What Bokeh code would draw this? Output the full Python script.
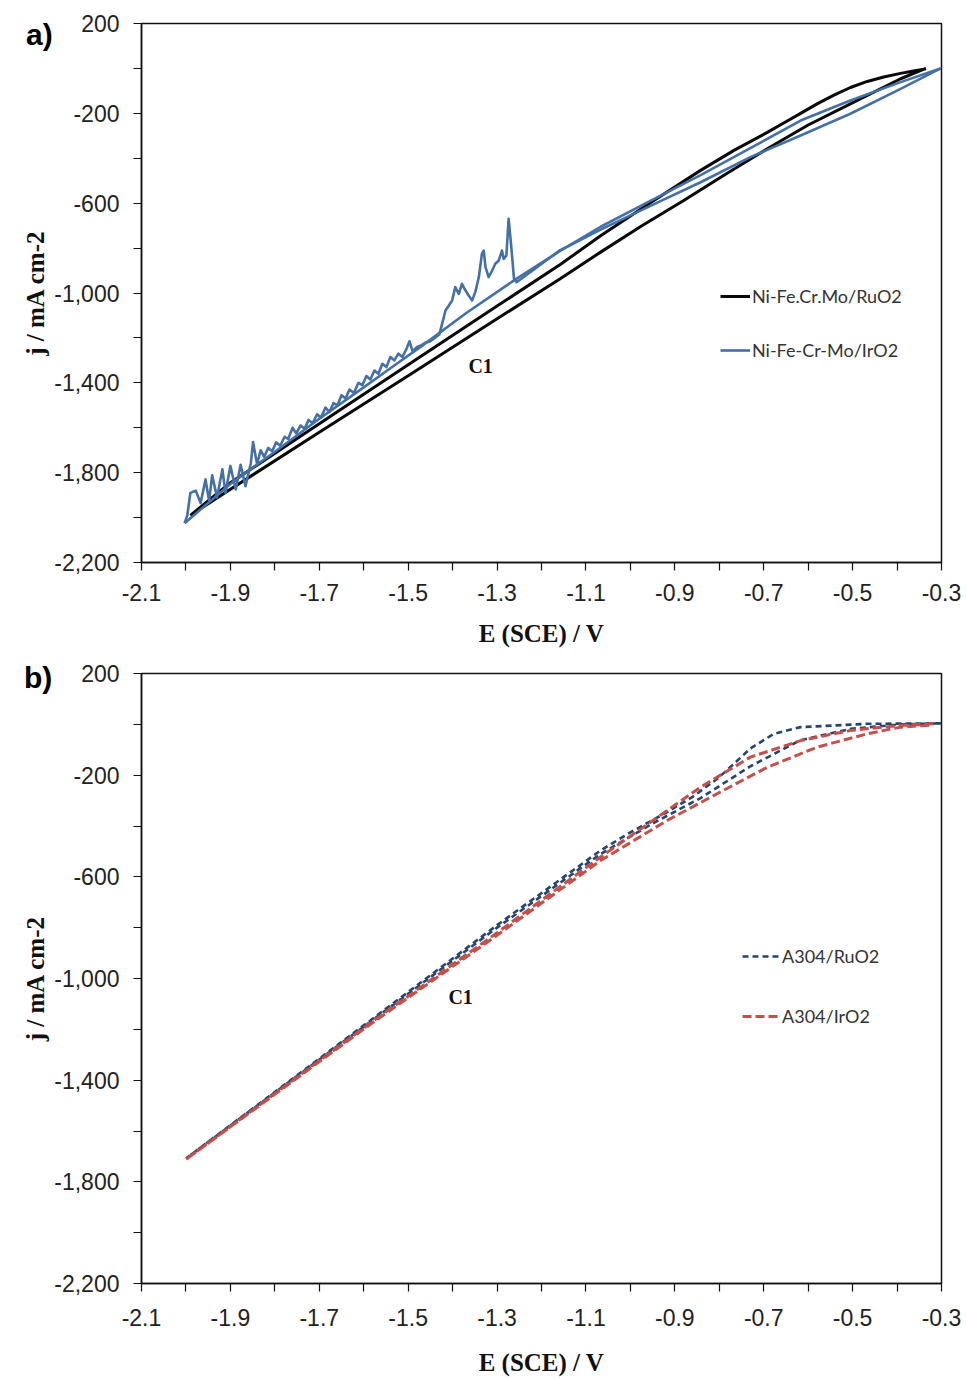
from bokeh.plotting import figure
from bokeh.layouts import column
from bokeh.models import (Range1d, FixedTicker, NumeralTickFormatter, PrintfTickFormatter,
                          Legend, LegendItem, Label, Div)
from bokeh.embed import file_html
from bokeh.resources import INLINE

# ---------------- axis ticks ----------------
x_major = [-2.1, -1.9, -1.7, -1.5, -1.3, -1.1, -0.9, -0.7, -0.5, -0.3]
x_minor = [-2.0, -1.8, -1.6, -1.4, -1.2, -1.0, -0.8, -0.6, -0.4]
y_major = [200, -200, -600, -1000, -1400, -1800, -2200]
y_minor = [0, -400, -800, -1200, -1600, -2000]

# ---------------- panel a: C1 cycles ----------------
# Ni-Fe.Cr.Mo/RuO2 : cathodic sweep then return sweep
ruo2_E = [-0.335, -0.392, -0.505, -0.600, -0.692, -0.785, -0.880, -0.975, -1.067, -1.157, -1.300, -1.500,
          -1.700, -1.900, -1.990,
          -1.900, -1.700, -1.500, -1.300, -1.157, -1.067, -0.955, -0.842, -0.767, -0.692, -0.655, -0.617,
          -0.580, -0.542, -0.505, -0.467, -0.430, -0.392, -0.360, -0.335]
ruo2_j = [0, -46, -158, -252, -358, -470, -588, -702, -818, -935, -1115, -1368,
          -1620, -1874, -1990,
          -1845, -1582, -1320, -1058, -872, -745, -598, -454, -365, -285, -243, -200,
          -158, -119, -85, -58, -38, -22, -10, -2]

# Ni-Fe-Cr-Mo/IrO2 : smooth cathodic sweep
iro2_fwd_E = [-0.302, -0.392, -0.505, -0.617, -0.730, -0.842, -0.955, -1.067, -1.160, -1.262,
              -1.370, -1.472, -1.540, -1.600, -1.700, -1.802, -1.900, -2.003]
iro2_fwd_j = [0, -61, -143, -232, -355, -475, -590, -705, -815, -944,
              -1090, -1240, -1335, -1420, -1560, -1710, -1850, -2025]

# Ni-Fe-Cr-Mo/IrO2 : noisy return sweep (gas evolution)
iro2_rev_E = [-2.003, -1.997, -1.990, -1.978, -1.967, -1.956, -1.948, -1.941, -1.930, -1.918,
              -1.911, -1.900, -1.888, -1.877, -1.866, -1.854, -1.849, -1.840, -1.832, -1.824,
              -1.815, -1.806, -1.797, -1.788, -1.778, -1.770, -1.760, -1.752, -1.742, -1.733,
              -1.724, -1.715, -1.705, -1.696, -1.686, -1.677, -1.668, -1.659, -1.650, -1.641,
              -1.632, -1.622, -1.612, -1.603, -1.594, -1.585, -1.576, -1.567, -1.558, -1.549,
              -1.540, -1.531, -1.522, -1.513, -1.504, -1.497, -1.490, -1.480, -1.470, -1.460,
              -1.450, -1.440, -1.430, -1.420, -1.416, -1.401, -1.394, -1.386, -1.379, -1.371,
              -1.364, -1.356, -1.349, -1.341, -1.334, -1.330, -1.326, -1.319, -1.311, -1.304,
              -1.296, -1.289, -1.285, -1.279, -1.274, -1.270, -1.266, -1.262, -1.256,
              -1.160, -1.067, -0.955, -0.842, -0.730, -0.617, -0.505, -0.392, -0.302]
iro2_rev_j = [-2025, -1990, -1890, -1880, -1935, -1830, -1925, -1812, -1910, -1785,
              -1890, -1770, -1875, -1765, -1860, -1758, -1664, -1762, -1700, -1730,
              -1690, -1705, -1665, -1680, -1640, -1650, -1600, -1625, -1590, -1605,
              -1565, -1580, -1540, -1555, -1510, -1530, -1490, -1500, -1455, -1470,
              -1430, -1445, -1400, -1410, -1370, -1385, -1345, -1360, -1315, -1330,
              -1285, -1300, -1270, -1285, -1250, -1215, -1260, -1240, -1232, -1220,
              -1215, -1200, -1185, -1110, -1078, -1033, -974, -1004, -959, -989,
              -1011, -1033, -996, -929, -825, -811, -885, -929, -900, -870,
              -855, -811, -848, -833, -670, -751, -840, -935, -952,
              -812, -718, -612, -507, -395, -299, -202, -91, 0]

# ---------------- panel b: C1 cycles ----------------
a304_ruo2_E = [-0.300, -0.467, -0.617, -0.677, -0.730, -0.770, -0.805, -0.860, -0.917, -1.000, -1.067,
               -1.300, -1.585, -2.000,
               -1.585, -1.300, -1.067, -0.950, -0.842, -0.730, -0.617, -0.505, -0.392, -0.300]
a304_ruo2_j = [4, 2, -11, -37, -95, -160, -215, -285, -345, -425, -496,
               -790, -1165, -1708,
               -1170, -800, -510, -390, -290, -165, -62, -18, 0, 4]

a304_iro2_E = [-0.318, -0.392, -0.505, -0.617, -0.730, -0.842, -0.950, -1.067, -1.300, -1.585, -2.000,
               -1.585, -1.300, -1.067, -0.917, -0.805, -0.692, -0.580, -0.467, -0.392, -0.318]
a304_iro2_j = [2, -4, -24, -64, -129, -247, -379, -522, -820, -1175, -1712,
               -1180, -830, -536, -378, -273, -169, -90, -37, -11, -2]

legend_a = ["Ni-Fe.Cr.Mo/RuO2", "Ni-Fe-Cr-Mo/IrO2"]
legend_b = ["A304/RuO2", "A304/IrO2"]
panel_names = ["a)", "b)"]


def make_panel(height, bottom_border, label_gap, title_gap):
    p = figure(width=967, height=height, output_backend="svg", toolbar_location=None,
               x_range=Range1d(-2.1, -0.3), y_range=Range1d(-2200, 200),
               min_border_left=141, min_border_right=26, min_border_top=23,
               min_border_bottom=bottom_border)
    p.background_fill_color = "white"
    p.border_fill_color = "white"
    p.outline_line_color = "#111111"
    p.outline_line_width = 1.5
    p.xgrid.visible = False
    p.ygrid.visible = False

    p.xaxis.ticker = FixedTicker(ticks=x_major, minor_ticks=x_minor)
    p.yaxis.ticker = FixedTicker(ticks=y_major, minor_ticks=y_minor)
    p.xaxis.formatter = PrintfTickFormatter(format="%.1f")
    p.yaxis.formatter = NumeralTickFormatter(format="0,0")

    for ax in (p.xaxis[0], p.yaxis[0]):
        ax.axis_line_color = "#111111"
        ax.axis_line_width = 1.5
        ax.major_tick_line_color = "#111111"
        ax.minor_tick_line_color = "#111111"
        ax.major_tick_line_width = 1.2
        ax.minor_tick_line_width = 1.2
        ax.major_tick_in = 0
        ax.minor_tick_in = 0
        ax.major_tick_out = 8
        ax.minor_tick_out = 8
        ax.major_label_text_font = "Liberation Sans"
        ax.major_label_text_font_size = "23px"
        ax.major_label_text_color = "#222222"
        ax.axis_label_text_font = "Liberation Serif"
        ax.axis_label_text_font_style = "bold"
        ax.axis_label_text_font_size = "25px"
        ax.axis_label_text_color = "#111111"

    p.xaxis.major_label_standoff = label_gap
    p.yaxis.major_label_standoff = 14
    p.xaxis.axis_label = "E (SCE) / V"
    p.yaxis.axis_label = "j / mA cm-2"
    p.xaxis.axis_label_standoff = title_gap
    p.yaxis.axis_label_standoff = 2
    return p


def add_legend(p, items, x, y, glyph_w, gap):
    leg = Legend(items=items, location=(x, y), orientation="vertical",
                 glyph_width=glyph_w, glyph_height=20, label_height=20,
                 spacing=gap, padding=0, margin=0, label_standoff=2,
                 border_line_alpha=0, background_fill_alpha=0,
                 label_text_font="Lato", label_text_font_size="18px",
                 label_text_color="#333333")
    p.add_layout(leg)


def panel_letter(text, left, top):
    # bold panel tag laid over the page at a fixed spot
    return Div(text=text, styles={"position": "absolute", "left": f"{left}px", "top": f"{top}px",
                                  "margin": "0", "padding": "0", "z-index": "10",
                                  "font-family": "Liberation Sans", "font-weight": "bold",
                                  "font-size": "30px", "line-height": "1", "color": "#000000"})


# ---- panel a ----
pa = make_panel(650, 88, 13, 16)
r_black = pa.line(ruo2_E, ruo2_j, line_color="#0a0a0a", line_width=3)
r_blue = pa.line(iro2_fwd_E, iro2_fwd_j, line_color="#4470A6", line_width=2.6)
pa.line(iro2_rev_E, iro2_rev_j, line_color="#4470A6", line_width=2.6, line_join="round")
add_legend(pa, [LegendItem(label=legend_a[0], renderers=[r_black]),
                LegendItem(label=legend_a[1], renderers=[r_blue])], 579, 201, 30, 32)
pa.add_layout(Label(x=-1.337, y=-1327, text="C1", text_align="center", text_baseline="middle",
                    text_font="Liberation Serif", text_font_style="bold", text_font_size="20px",
                    text_color="#111111"))

# ---- panel b ----
pb = make_panel(728, 95, 17, 20)
r_ru = pb.line(a304_ruo2_E, a304_ruo2_j, line_color="#25446E", line_width=2.6, line_dash="6 4")
r_ir = pb.line(a304_iro2_E, a304_iro2_j, line_color="#C4504C", line_width=3, line_dash="9 4")
add_legend(pb, [LegendItem(label=legend_b[0], renderers=[r_ru]),
                LegendItem(label=legend_b[1], renderers=[r_ir])], 601, 256, 38, 38)
pb.add_layout(Label(x=-1.382, y=-1071, text="C1", text_align="center", text_baseline="middle",
                    text_font="Liberation Serif", text_font_style="bold", text_font_size="20px",
                    text_color="#111111"))

tag_a = panel_letter(panel_names[0], 26, 20)
tag_b = panel_letter(panel_names[1], 24, 663)

layout = column(pa, pb, tag_a, tag_b, spacing=0)
open("out.html", "w").write(file_html(layout, INLINE))
